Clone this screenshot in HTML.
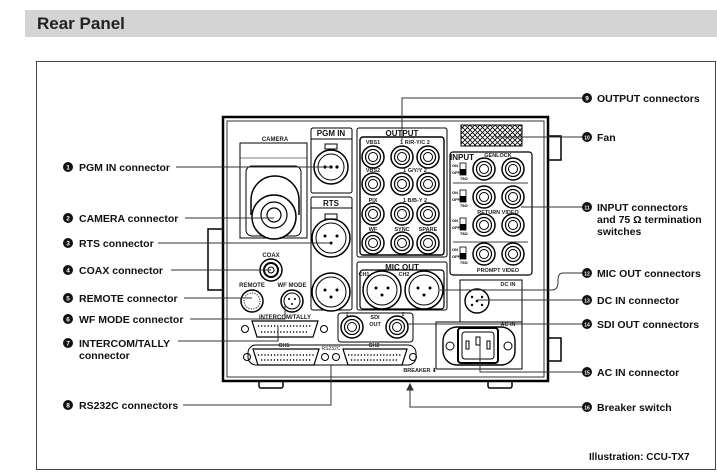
<!DOCTYPE html>
<html><head><meta charset="utf-8"><style>
html,body{margin:0;padding:0;background:#fff;width:717px;height:476px;overflow:hidden}
svg{display:block}
text{font-family:"Liberation Sans",Arial,sans-serif;font-weight:bold}
.lb{font-size:10.5px;fill:#111}
.n{font-size:6.5px;fill:#fff;text-anchor:middle}
.s{font-size:6px;fill:#222;text-anchor:middle}
.t{font-size:8px;fill:#111;text-anchor:middle}
.k{stroke:#000;fill:none}
.ln{stroke:#333;stroke-width:1;fill:none}
</style></head><body>
<svg width="717" height="476" viewBox="0 0 717 476" xmlns="http://www.w3.org/2000/svg">
<defs>
<g id="bnc"><circle r="11" fill="#fff" stroke="#000" stroke-width="1.5"/><circle r="7.5" fill="none" stroke="#000" stroke-width="1.2"/><circle r="4.5" fill="none" stroke="#000"/></g>
<g id="xlr"><circle r="19" fill="#fff" stroke="#000" stroke-width="1.5"/><circle r="15" fill="none" stroke="#000"/><circle cx="-6" cy="-2" r="1.5"/><circle cx="6" cy="-2" r="1.5"/><circle cx="0" cy="5" r="1.5"/></g>
<g id="sw"><text x="-7" y="-3" font-size="4" fill="#000">ON</text><text x="-7" y="4" font-size="4" fill="#000">OFF</text><rect x="1" y="-7" width="6" height="12" fill="#fff" stroke="#000" stroke-width=".8"/><rect x="1" y="-1" width="6" height="6" fill="#000"/><text x="1" y="10" font-size="4" fill="#000">75Ω</text></g>
</defs>
<rect x="25" y="10" width="692" height="27" fill="#d4d4d4"/>
<text x="37" y="29" style="font-size:17px" fill="#222">Rear Panel</text>
<rect x="36.5" y="61.5" width="679" height="408" fill="#fff" stroke="#444" stroke-width="1"/>

<!-- side tabs & feet -->
<path d="M222 229 H208 V290 H222" class="k" stroke-width="1.5"/>
<path d="M549 136 H561 V160 H549 M549 338 H561 V361 H549" class="k" stroke-width="1.5"/>
<rect x="259" y="381" width="24" height="7" rx="2" class="k" stroke-width="1.5"/>
<rect x="488" y="381" width="24" height="7" rx="2" class="k" stroke-width="1.5"/>
<!-- device -->
<rect x="223" y="117" width="325" height="264" fill="#fff" stroke="#000" stroke-width="2.5"/>
<rect x="227" y="121" width="317" height="256" class="k" stroke-width="0.8"/>

<!-- camera -->
<text x="275" y="141" class="s">CAMERA</text>
<rect x="240" y="143" width="67" height="95" class="k"/>
<path d="M240 158 H307" class="k" stroke-width=".6"/>
<rect x="246" y="166" width="55" height="70" rx="6" class="k"/>
<path d="M251 215 V200 A24 24 0 0 1 299 200 V215" class="k" stroke-width="1.5"/>
<circle cx="274" cy="217" r="22" fill="#fff" stroke="#000" stroke-width="1.5"/>
<circle cx="274" cy="215" r="13" class="k" stroke-width="1.2"/>
<circle cx="274" cy="215" r="7" class="k" stroke-width="1.2"/>

<!-- PGM IN -->
<rect x="311" y="128" width="41" height="65" rx="2" class="k"/>
<path d="M311 139 H352" class="k"/>
<text x="331" y="136" class="t">PGM IN</text>
<circle cx="331" cy="167" r="17" fill="#fff" stroke="#000" stroke-width="1.5"/>
<circle cx="331" cy="167" r="13" class="k"/>
<rect x="325" y="144" width="12" height="5" class="k"/>
<circle cx="325" cy="167" r="1.6"/><circle cx="331" cy="167" r="1.6"/><circle cx="337" cy="167" r="1.6"/>

<!-- RTS -->
<rect x="311" y="197" width="41" height="113" rx="2" class="k"/>
<path d="M311 208 H352" class="k"/>
<text x="331" y="206" class="t">RTS</text>
<use href="#xlr" x="331" y="238"/>
<rect x="325" y="214" width="12" height="5" class="k"/>
<use href="#xlr" x="331" y="292"/>

<!-- OUTPUT -->
<rect x="357" y="128" width="90" height="129" rx="2" class="k"/>
<rect x="360" y="137" width="84" height="118" rx="3" class="k" stroke-width="1.4"/>
<text x="402" y="136" class="t">OUTPUT</text>
<g class="s" style="font-size:5.5px">
<text x="373" y="144">VBS1</text><text x="415" y="144">1 R/R-Y/C 2</text>
<text x="373" y="172">VBS2</text><text x="415" y="172">1 G/Y/Y 2</text>
<text x="373" y="202">PIX</text><text x="415" y="202">1 B/B-Y 2</text>
<text x="373" y="231">WF</text><text x="402" y="231">SYNC</text><text x="428" y="231">SPARE</text>
</g>
<use href="#bnc" x="373" y="157"/><use href="#bnc" x="402" y="157"/><use href="#bnc" x="428" y="157"/>
<use href="#bnc" x="373" y="184"/><use href="#bnc" x="402" y="184"/><use href="#bnc" x="428" y="184"/>
<use href="#bnc" x="373" y="214"/><use href="#bnc" x="402" y="214"/><use href="#bnc" x="428" y="214"/>
<use href="#bnc" x="373" y="243"/><use href="#bnc" x="402" y="243"/><use href="#bnc" x="428" y="243"/>

<!-- MIC OUT -->
<rect x="357" y="262" width="90" height="48" rx="2" class="k"/>
<rect x="360" y="270" width="84" height="39" rx="3" class="k" stroke-width="1.2"/>
<text x="402" y="270" class="t">MIC OUT</text>
<text x="364" y="276" class="s" style="font-size:5.5px">CH1</text><text x="404" y="276" class="s" style="font-size:5.5px">CH2</text>
<use href="#xlr" x="382" y="290"/><use href="#xlr" x="424" y="290"/>

<!-- Fan -->
<defs><pattern id="hx" width="5" height="5" patternUnits="userSpaceOnUse"><path d="M0 0 L5 5 M5 0 L0 5" stroke="#000" stroke-width=".8"/></pattern></defs>
<rect x="461" y="125" width="61" height="21" fill="url(#hx)" stroke="#000"/>

<!-- INPUT -->
<rect x="450" y="152" width="82" height="123" rx="3" class="k" stroke-width="1.2"/>
<text x="462" y="160" class="t">INPUT</text>
<text x="498" y="157" class="s" style="font-size:5.5px">GENLOCK</text>
<path d="M453 183 H528 M453 242 H528" class="k" stroke-width=".7"/>
<text x="498" y="214" class="s" style="font-size:5.5px">RETURN VIDEO</text>
<text x="498" y="272" class="s" style="font-size:5.5px">PROMPT VIDEO</text>
<use href="#sw" x="459" y="170"/><use href="#sw" x="459" y="197"/><use href="#sw" x="459" y="225"/><use href="#sw" x="459" y="254"/>
<use href="#bnc" x="484" y="169"/><use href="#bnc" x="513" y="169"/>
<use href="#bnc" x="484" y="197"/><use href="#bnc" x="513" y="197"/>
<use href="#bnc" x="484" y="225"/><use href="#bnc" x="513" y="225"/>
<use href="#bnc" x="484" y="254"/><use href="#bnc" x="513" y="254"/>

<!-- DC IN / AC IN -->
<rect x="460" y="280" width="62" height="42" class="k"/>
<text x="508" y="286" class="s" style="font-size:5.5px">DC IN</text>
<circle cx="477" cy="301" r="12" class="k" stroke-width="1.4"/>
<circle cx="477" cy="301" r="1.3"/><circle cx="472" cy="297" r="1.2"/><circle cx="482" cy="297" r="1.2"/><circle cx="472" cy="305" r="1.2"/><circle cx="482" cy="305" r="1.2"/>
<path d="M436 369 V322 H460 M522 322 V369 H436" class="k"/>
<text x="508" y="326" class="s" style="font-size:5.5px">AC IN</text>
<rect x="443" y="327" width="72" height="38" rx="14" class="k" stroke-width="1.4"/>
<circle cx="450" cy="346" r="4" class="k"/><circle cx="508" cy="346" r="4" class="k"/>
<rect x="458" y="328" width="40" height="35" rx="3" fill="#fff" stroke="#000" stroke-width="2"/>
<rect x="462" y="332" width="32" height="27" rx="3" class="k"/>
<rect x="466" y="341" width="3" height="8" class="k"/><rect x="476" y="337" width="4" height="8" class="k"/><rect x="487" y="341" width="3" height="8" class="k"/>

<!-- COAX / REMOTE / WF -->
<text x="271" y="257" class="s">COAX</text>
<circle cx="271" cy="270" r="11" fill="#fff" stroke="#000" stroke-width="1.5"/><circle cx="271" cy="270" r="7" class="k" stroke-width="2"/><circle cx="271" cy="270" r="3" class="k"/>
<text x="252" y="287" class="s">REMOTE</text><text x="292" y="287" class="s">WF MODE</text>
<circle cx="252" cy="301" r="11" fill="#fff" stroke="#000" stroke-width="1.5"/><circle cx="252" cy="301" r="8" fill="none" stroke="#000" stroke-dasharray="1 1.5"/>
<circle cx="292" cy="301" r="11" fill="#fff" stroke="#000" stroke-width="1.5"/><circle cx="292" cy="301" r="8" class="k"/>
<circle cx="289" cy="299" r="1"/><circle cx="295" cy="299" r="1"/><circle cx="292" cy="304" r="1"/>

<!-- intercom -->
<text x="285" y="319" class="s">INTERCOM/TALLY</text>
<circle cx="245" cy="329" r="3.5" class="k"/><circle cx="324" cy="329" r="3.5" class="k"/>
<path d="M252 321 H318 L313 337 H257 Z" fill="#fff" stroke="#000" stroke-width="1.2"/>
<path d="M258 326 H312 M261 332 H309" stroke="#000" stroke-width="1.6" stroke-dasharray="1.2 2" fill="none"/>

<!-- SDI -->
<rect x="338" y="313" width="75" height="29" rx="3" class="k"/>
<use href="#bnc" x="352" y="327"/><use href="#bnc" x="397" y="327"/>
<text x="375" y="319" class="s" style="font-size:5.5px">SDI</text><text x="375" y="326" class="s" style="font-size:5.5px">OUT</text>
<text x="347" y="316" class="s" style="font-size:5px">1</text><text x="403" y="316" class="s" style="font-size:5px">2</text>

<!-- RS232C -->
<rect x="248" y="345" width="168" height="20" rx="8" class="k"/>
<text x="284" y="347" class="s" style="font-size:5.5px">CH1</text><text x="374" y="347" class="s" style="font-size:5.5px">CH2</text>
<text x="331" y="350" class="s" style="font-size:5px;font-weight:normal">RS232C</text>
<circle cx="247" cy="357" r="3.5" class="k"/><circle cx="325" cy="357" r="3.5" class="k"/>
<circle cx="336" cy="357" r="3.5" class="k"/><circle cx="413" cy="357" r="3.5" class="k"/>
<path d="M253 349 H319 L314 365 H258 Z" fill="#fff" stroke="#000" stroke-width="1.2"/>
<path d="M343 349 H407 L402 365 H348 Z" fill="#fff" stroke="#000" stroke-width="1.2"/>
<path d="M258 355 H314 M261 360 H311 M348 355 H402 M351 360 H399" stroke="#000" stroke-width="1.6" stroke-dasharray="1.2 2" fill="none"/>
<text x="420" y="372" class="s" style="font-size:5.5px">BREAKER ⬇</text>

<!-- leader lines left -->
<g class="ln">
<path d="M176 167 H331"/>
<path d="M185 218 H274"/>
<path d="M158 243 H331"/>
<path d="M171 270 H271"/>
<path d="M184 298 H252"/>
<path d="M190 319 H285 V305"/>
<path d="M178 341 H278 V327"/>
<path d="M183 405 H331 V365"/>
</g>
<!-- leader lines right -->
<g class="ln">
<path d="M587 98 H402 V140"/>
<path d="M587 137 H495"/>
<path d="M587 207 H521"/>
<path d="M587 273 H563 Q558 273 558 280 V282 Q558 290 552 290 H440"/>
<path d="M587 300 H477"/>
<path d="M587 324 H408"/>
<path d="M587 372 H480 V345"/>
<path d="M587 407 H410 V386"/>
<path d="M407 390 L410 384 L413 390 Z" fill="#333"/>
</g>

<!-- labels left -->
<g>
<circle cx="68" cy="167" r="5" fill="#111"/><text x="68" y="169.5" class="n">1</text><text x="79" y="171" class="lb">PGM IN connector</text>
<circle cx="68" cy="218" r="5" fill="#111"/><text x="68" y="220.5" class="n">2</text><text x="79" y="222" class="lb">CAMERA connector</text>
<circle cx="68" cy="243" r="5" fill="#111"/><text x="68" y="245.5" class="n">3</text><text x="79" y="247" class="lb">RTS connector</text>
<circle cx="68" cy="270" r="5" fill="#111"/><text x="68" y="272.5" class="n">4</text><text x="79" y="274" class="lb">COAX connector</text>
<circle cx="68" cy="298" r="5" fill="#111"/><text x="68" y="300.5" class="n">5</text><text x="79" y="302" class="lb">REMOTE connector</text>
<circle cx="68" cy="319" r="5" fill="#111"/><text x="68" y="321.5" class="n">6</text><text x="79" y="323" class="lb">WF MODE connector</text>
<circle cx="68" cy="343" r="5" fill="#111"/><text x="68" y="345.5" class="n">7</text><text x="79" y="347" class="lb">INTERCOM/TALLY</text><text x="79" y="359" class="lb">connector</text>
<circle cx="68" cy="405" r="5" fill="#111"/><text x="68" y="407.5" class="n">8</text><text x="79" y="409" class="lb">RS232C connectors</text>
</g>
<!-- labels right -->
<g>
<circle cx="587" cy="98" r="5" fill="#111"/><text x="587" y="100.5" class="n">9</text><text x="597" y="102" class="lb">OUTPUT connectors</text>
<circle cx="587" cy="137" r="5" fill="#111"/><text x="587" y="139.5" class="n" style="font-size:5px">10</text><text x="597" y="141" class="lb">Fan</text>
<circle cx="587" cy="207" r="5" fill="#111"/><text x="587" y="209.5" class="n" style="font-size:5px">11</text><text x="597" y="211" class="lb">INPUT connectors</text><text x="597" y="223" class="lb">and 75 Ω termination</text><text x="597" y="235" class="lb">switches</text>
<circle cx="587" cy="273" r="5" fill="#111"/><text x="587" y="275.5" class="n" style="font-size:5px">12</text><text x="597" y="277" class="lb">MIC OUT connectors</text>
<circle cx="587" cy="300" r="5" fill="#111"/><text x="587" y="302.5" class="n" style="font-size:5px">13</text><text x="597" y="304" class="lb">DC IN connector</text>
<circle cx="587" cy="324" r="5" fill="#111"/><text x="587" y="326.5" class="n" style="font-size:5px">14</text><text x="597" y="328" class="lb">SDI OUT connectors</text>
<circle cx="587" cy="372" r="5" fill="#111"/><text x="587" y="374.5" class="n" style="font-size:5px">15</text><text x="597" y="376" class="lb">AC IN connector</text>
<circle cx="587" cy="407" r="5" fill="#111"/><text x="587" y="409.5" class="n" style="font-size:5px">16</text><text x="597" y="411" class="lb">Breaker switch</text>
<text x="589" y="460" class="lb" style="font-size:10px">Illustration: CCU-TX7</text>
</g>
</svg>
</body></html>
